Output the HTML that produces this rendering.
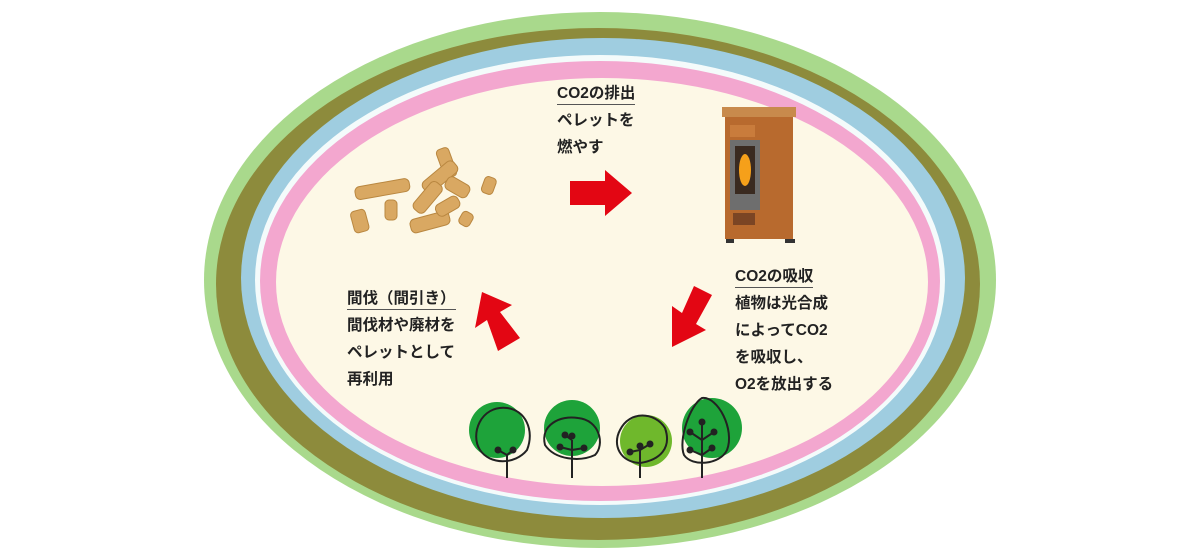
<!DOCTYPE html>
<html><head><meta charset="utf-8"><style>
body{margin:0;background:#fff;width:1200px;height:554px;overflow:hidden;position:relative;font-family:"Liberation Sans","Noto Sans CJK JP",sans-serif}
.t{position:absolute;font-size:15.5px;color:#222;line-height:27px;font-weight:bold}
.u{border-bottom:1.5px solid #555;display:inline-block;line-height:20px}
</style></head><body>
<svg width="1200" height="554" style="position:absolute;left:0;top:0">
<ellipse cx="600" cy="280" rx="396" ry="268" fill="#a9d98c"/>
<ellipse cx="598" cy="284" rx="382" ry="256" fill="#8d8b3c"/>
<ellipse cx="603" cy="278" rx="362" ry="240" fill="#9fcde0"/>
<ellipse cx="600" cy="280" rx="345" ry="225" fill="#f4fbfb"/>
<ellipse cx="600" cy="281" rx="340" ry="220" fill="#f3a7cf"/>
<ellipse cx="602" cy="282" rx="326" ry="204" fill="#fdf8e6"/>
<polygon points="570,181 605,181 605,170 632,193 605,216 605,205 570,205" fill="#e30613"/>
<polygon points="520,338 498,351 487,320 475,328 482,292 512,305 500,312" fill="#e30613"/>
<polygon points="712,295 694,286 682,313 672,306 672,347 706,330 696,324" fill="#e30613"/>
<g fill="#d9a862" stroke="#b98740" stroke-width="1">
<rect x="355" y="183" width="55" height="13" rx="5" transform="rotate(-10 380 190)"/>
<rect x="352" y="210" width="15" height="22" rx="4" transform="rotate(-15 360 220)"/>
<rect x="385" y="200" width="12" height="20" rx="4"/>
<rect x="410" y="215" width="40" height="14" rx="5" transform="rotate(-15 430 222)"/>
<rect x="440" y="148" width="13" height="30" rx="4" transform="rotate(-20 446 163)"/>
<rect x="420" y="170" width="40" height="14" rx="5" transform="rotate(-40 440 177)"/>
<rect x="410" y="190" width="35" height="14" rx="5" transform="rotate(-50 428 197)"/>
<rect x="445" y="180" width="25" height="14" rx="5" transform="rotate(30 457 187)"/>
<rect x="483" y="177" width="12" height="17" rx="4" transform="rotate(20 489 185)"/>
<rect x="460" y="212" width="12" height="14" rx="4" transform="rotate(30 466 219)"/>
<rect x="435" y="200" width="25" height="13" rx="5" transform="rotate(-30 447 206)"/>
</g>
<rect x="722" y="107" width="74" height="10" fill="#c88a4c"/>
<rect x="725" y="117" width="68" height="122" fill="#b86a2e"/>
<rect x="730" y="125" width="25" height="12" fill="#c97c3c"/>
<rect x="730" y="140" width="30" height="70" fill="#6e6e6e"/>
<rect x="735" y="146" width="20" height="48" fill="#3a2a20"/>
<ellipse cx="745" cy="170" rx="6" ry="16" fill="#f6a01a"/>
<rect x="733" y="213" width="22" height="12" fill="#7b4524"/>
<rect x="726" y="239" width="8" height="4" fill="#333"/><rect x="785" y="239" width="10" height="4" fill="#333"/>
<g stroke="#222" stroke-width="2" fill="none">
<circle cx="497" cy="430" r="28" fill="#1ea33a" stroke="none"/>
<path d="M507,408 C480,405 470,435 480,450 C490,465 515,465 527,450 C535,430 525,410 507,408Z"/>
<path d="M507,478 V455 M507,455 L498,450 M507,455 L513,450"/>
<circle cx="572" cy="428" r="28" fill="#1ea33a" stroke="none"/>
<path d="M545,445 C540,425 560,415 578,418 C600,420 605,445 595,455 C580,462 555,460 545,445Z"/>
<path d="M572,478 V440 M572,450 L560,447 M572,450 L584,448 M572,440 L565,435"/>
<circle cx="646" cy="441" r="26" fill="#6fb82c" stroke="none"/>
<path d="M620,430 C630,410 655,412 665,428 C672,448 660,460 640,463 C620,462 612,445 620,430Z"/>
<path d="M640,478 V450 M640,450 L630,452 M640,450 L650,444"/>
<circle cx="712" cy="428" r="30" fill="#1ea33a" stroke="none"/>
<path d="M702,398 C690,405 678,440 684,455 C692,467 720,465 727,450 C735,430 718,396 702,398Z"/>
<path d="M702,478 V420 M702,440 L690,432 M702,440 L714,432 M702,455 L690,450 M702,455 L712,448"/>
</g>
<g fill="#222"><circle cx="498" cy="450" r="3.5"/><circle cx="513" cy="450" r="3.5"/><circle cx="560" cy="447" r="3.5"/><circle cx="584" cy="448" r="3.5"/><circle cx="565" cy="435" r="3.5"/><circle cx="572" cy="436" r="3.5"/><circle cx="630" cy="452" r="3.5"/><circle cx="640" cy="446" r="3.5"/><circle cx="650" cy="444" r="3.5"/><circle cx="702" cy="422" r="3.5"/><circle cx="690" cy="432" r="3.5"/><circle cx="714" cy="432" r="3.5"/><circle cx="690" cy="450" r="3.5"/><circle cx="712" cy="448" r="3.5"/></g>
</svg>
<div class="t" style="left:557px;top:80px"><span class="u">CO2の排出</span><br>ペレットを<br>燃やす</div>
<div class="t" style="left:347px;top:285px"><span class="u">間伐（間引き）</span><br>間伐材や廃材を<br>ペレットとして<br>再利用</div>
<div class="t" style="left:735px;top:263px"><span class="u">CO2の吸収</span><br>植物は光合成<br>によってCO2<br>を吸収し、<br>O2を放出する</div>
</body></html>
